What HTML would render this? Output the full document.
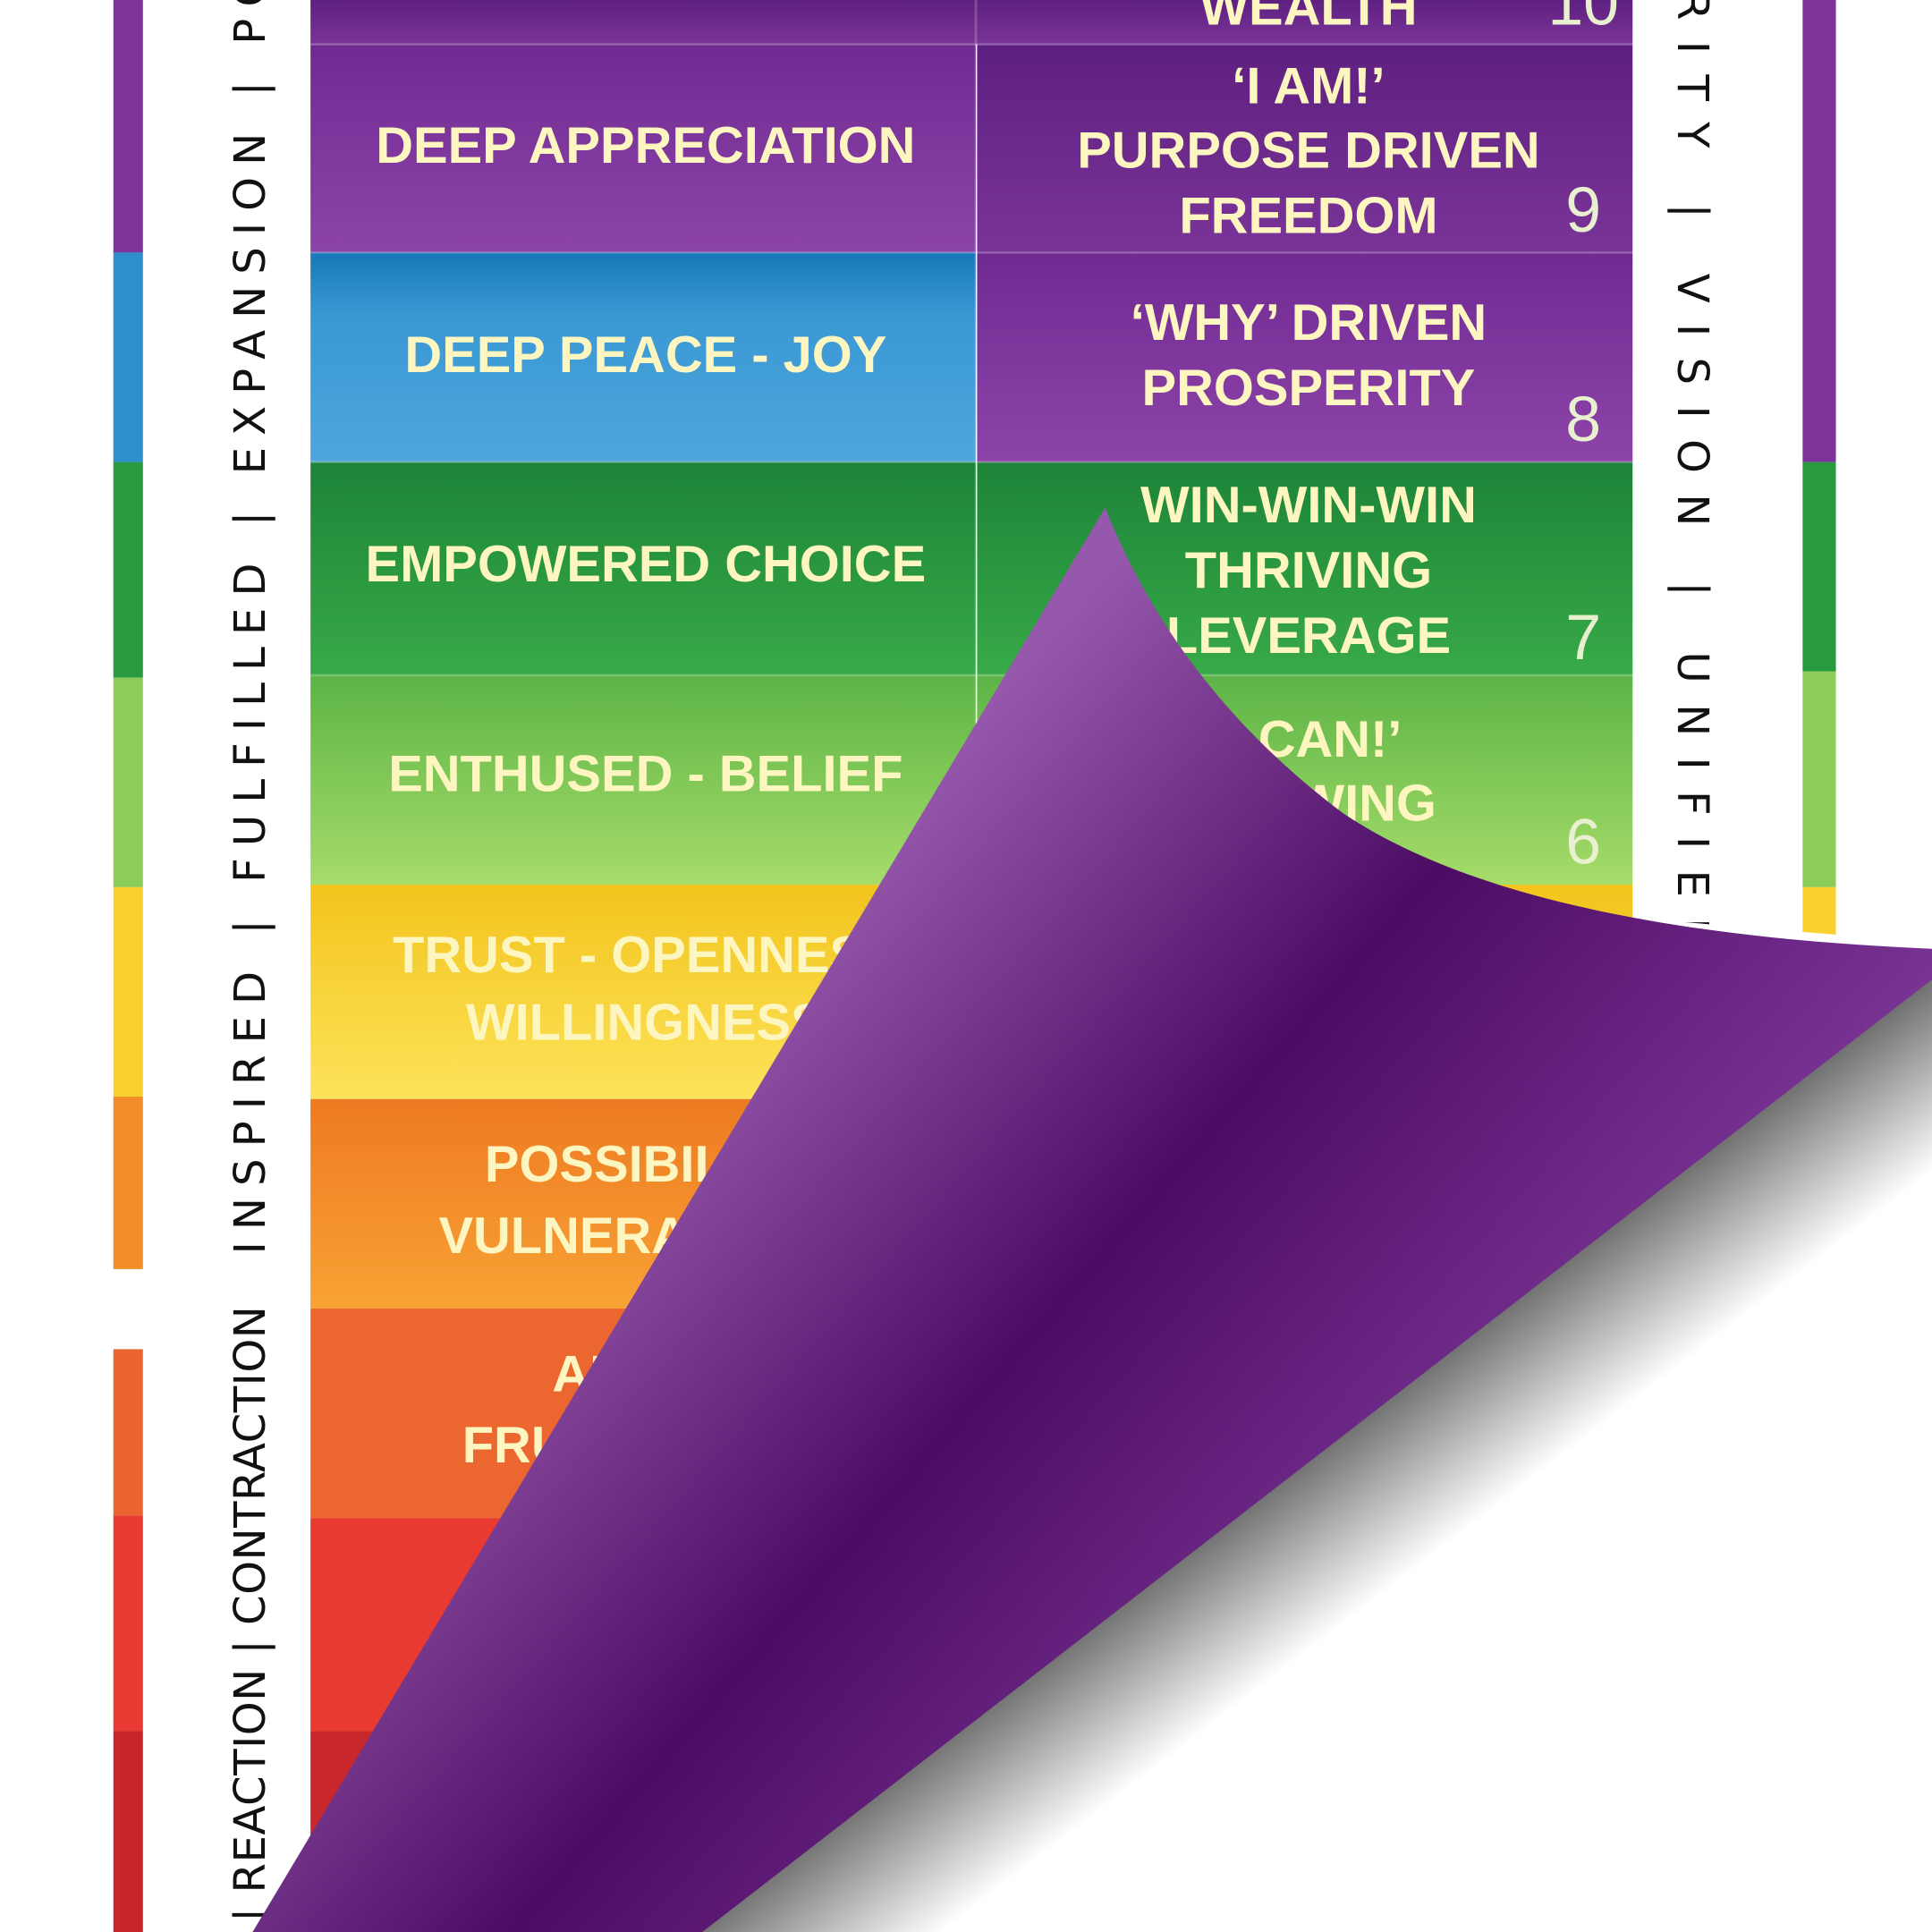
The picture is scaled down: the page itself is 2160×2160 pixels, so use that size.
<!DOCTYPE html>
<html><head><meta charset="utf-8"><style>
html,body{margin:0;padding:0;background:#fff;}
svg{display:block;}
.c{font-family:"Liberation Sans",sans-serif;font-weight:bold;fill:#fdf6c0;font-size:42px;text-anchor:middle;}
.n{font-family:"Liberation Sans",sans-serif;fill:#e8f0d0;font-size:52px;text-anchor:middle;}
.v{font-family:"DejaVu Sans","Liberation Sans",sans-serif;fill:#111;font-size:35px;}
</style></head><body>
<svg width="2160" height="2160" viewBox="0 0 1568 1568" xmlns="http://www.w3.org/2000/svg">
<defs>
<linearGradient id="pu" x1="0" y1="0" x2="0" y2="1"><stop offset="0" stop-color="#6f2a92"/><stop offset="1" stop-color="#8d44a8"/></linearGradient>
<linearGradient id="pu2" x1="0" y1="0" x2="0" y2="1"><stop offset="0" stop-color="#5e2080"/><stop offset="1" stop-color="#7a3498"/></linearGradient>
<linearGradient id="bl" x1="0" y1="0" x2="0" y2="1"><stop offset="0" stop-color="#1878b8"/><stop offset=".3" stop-color="#3a98d4"/><stop offset="1" stop-color="#4ea6dc"/></linearGradient>
<linearGradient id="gr" x1="0" y1="0" x2="0" y2="1"><stop offset="0" stop-color="#1c8438"/><stop offset="1" stop-color="#38aa48"/></linearGradient>
<linearGradient id="lg" x1="0" y1="0" x2="0" y2="1"><stop offset="0" stop-color="#5cb446"/><stop offset="1" stop-color="#a6dc6a"/></linearGradient>
<linearGradient id="ye" x1="0" y1="0" x2="0" y2="1"><stop offset="0" stop-color="#f2c41c"/><stop offset="1" stop-color="#fde35a"/></linearGradient>
<linearGradient id="or" x1="0" y1="0" x2="0" y2="1"><stop offset="0" stop-color="#ee7a22"/><stop offset="1" stop-color="#f8a234"/></linearGradient>
<linearGradient id="curl" gradientUnits="userSpaceOnUse" x1="600" y1="800" x2="1150" y2="1280"><stop offset="0" stop-color="#9658ac"/><stop offset=".5" stop-color="#4c0c64"/><stop offset="1" stop-color="#7a3494"/></linearGradient>
<linearGradient id="sh" gradientUnits="userSpaceOnUse" x1="1064" y1="1181" x2="1140" y2="1280"><stop offset="0" stop-color="#707070"/><stop offset="1" stop-color="#ffffff"/></linearGradient>
</defs>
<rect width="1568" height="1568" fill="#fff"/>
<rect x="92" y="0" width="24" height="205" fill="#7d3399"/>
<rect x="92" y="205" width="24" height="170" fill="#2f8fcc"/>
<rect x="92" y="375" width="24" height="175" fill="#2a9a40"/>
<rect x="92" y="550" width="24" height="170" fill="#8ccc58"/>
<rect x="92" y="720" width="24" height="170" fill="#f8d030"/>
<rect x="92" y="890" width="24" height="140" fill="#f28c28"/>
<rect x="92" y="1095" width="24" height="135" fill="#ec6430"/>
<rect x="92" y="1230" width="24" height="175" fill="#e83a32"/>
<rect x="92" y="1405" width="24" height="163" fill="#c8242c"/>
<rect x="1463" y="0" width="27" height="375" fill="#7d3399"/>
<rect x="1463" y="375" width="27" height="170" fill="#2a9a40"/>
<rect x="1463" y="545" width="27" height="175" fill="#8ccc58"/>
<rect x="1463" y="720" width="27" height="50" fill="#f8d030"/>
<rect x="252" y="0" width="1073" height="36" fill="url(#pu2)"/>
<rect x="252" y="36" width="540" height="169" fill="url(#pu)"/>
<rect x="793" y="36" width="532" height="169" fill="url(#pu2)"/>
<rect x="252" y="205" width="540" height="170" fill="url(#bl)"/>
<rect x="793" y="205" width="532" height="170" fill="url(#pu)"/>
<rect x="252" y="375" width="540" height="173" fill="url(#gr)"/>
<rect x="793" y="375" width="532" height="173" fill="url(#gr)"/>
<rect x="252" y="548" width="540" height="170" fill="url(#lg)"/>
<rect x="793" y="548" width="532" height="170" fill="url(#lg)"/>
<rect x="252" y="718" width="1073" height="174" fill="url(#ye)"/>
<rect x="252" y="892" width="1073" height="170" fill="url(#or)"/>
<rect x="252" y="1062" width="1073" height="170" fill="#ec6630"/>
<rect x="252" y="1232" width="1073" height="173" fill="#e83a30"/>
<rect x="252" y="1405" width="1073" height="163" fill="#c8282c"/>
<g stroke="#ffffff" stroke-opacity=".2" stroke-width="2">
<line x1="792" y1="0" x2="792" y2="718"/>
<line x1="252" y1="36" x2="1325" y2="36"/><line x1="252" y1="205" x2="1325" y2="205"/>
<line x1="252" y1="375" x2="1325" y2="375"/><line x1="252" y1="548" x2="1325" y2="548"/>
</g>
<text class="c" x="1062" y="20">WEALTH</text><text class="n" x="1285" y="20">10</text>
<text class="c" x="524" y="132">DEEP APPRECIATION</text>
<text class="c" x="1062" y="84">‘I AM!’</text><text class="c" x="1062" y="136">PURPOSE DRIVEN</text><text class="c" x="1062" y="189">FREEDOM</text><text class="n" x="1285" y="188">9</text>
<text class="c" x="524" y="302">DEEP PEACE - JOY</text>
<text class="c" x="1062" y="276">‘WHY’ DRIVEN</text><text class="c" x="1062" y="329">PROSPERITY</text><text class="n" x="1285" y="358">8</text>
<text class="c" x="524" y="472">EMPOWERED CHOICE</text>
<text class="c" x="1062" y="424">WIN-WIN-WIN</text><text class="c" x="1062" y="477">THRIVING</text><text class="c" x="1062" y="530">LEVERAGE</text><text class="n" x="1285" y="535">7</text>
<text class="c" x="524" y="642">ENTHUSED - BELIEF</text>
<text class="c" x="1062" y="614">‘I CAN!’</text><text class="c" x="1062" y="666">KNOWING</text><text class="n" x="1285" y="701">6</text>
<text class="c" x="524" y="789">TRUST - OPENNESS</text><text class="c" x="524" y="844">WILLINGNESS</text>
<text class="c" x="524" y="959">POSSIBILITY</text><text class="c" x="524" y="1017">VULNERABILITY</text>
<text class="c" x="524" y="1129">ANGER</text><text class="c" x="524" y="1187">FRUSTRATION</text>
<text class="v" transform="translate(215,1560) rotate(-90)" textLength="500" lengthAdjust="spacing">| REACTION | CONTRACTION</text>
<text class="v" transform="translate(215,1018) rotate(-90)" textLength="1040" lengthAdjust="spacing">INSPIRED | FULFILLED | EXPANSION | PO</text>
<text class="v" transform="translate(1362,-8) rotate(90)" textLength="780" lengthAdjust="spacing">RITY | VISION | UNIFIED</text>
<path d="M1325 745 L1568 765 L1568 1568 L520 1568 Z" fill="#fff"/>
<path d="M1568 790 L1568 1568 L560 1568 Z" fill="url(#sh)"/>
<path d="M205 1568 L897 412 C940 520 1010 600 1090 660 C1180 720 1330 760 1568 770 L1568 795 L570 1568 Z" fill="url(#curl)"/>
</svg>
</body></html>
